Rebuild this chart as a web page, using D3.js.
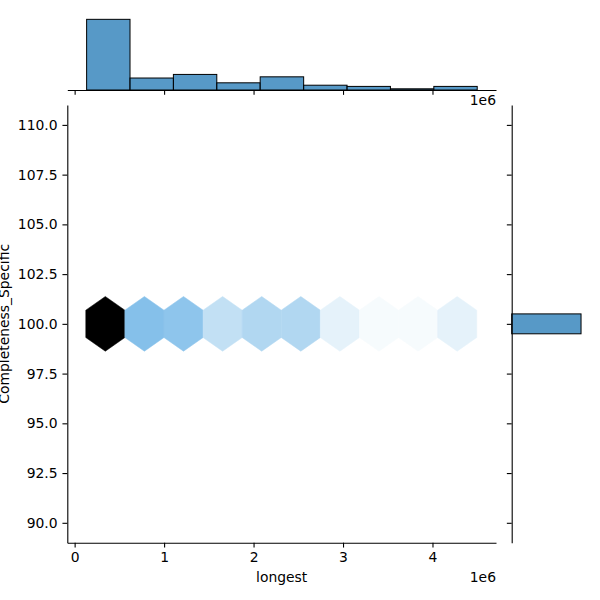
<!DOCTYPE html>
<html>
<head>
<meta charset="utf-8">
<script src="https://cdn.jsdelivr.net/npm/d3@7"></script>
<style>
  body { margin: 0; background: #fff; }
  text { font-family: "DejaVu Sans", sans-serif; font-size: 13.9px; fill: #000; }
</style>
</head>
<body>
<div id="chart"></div>
<script>
// marginal histogram of "longest" (bin edges in units of 1e6)
const xBinEdges = [0.134, 0.619, 1.104, 1.589, 2.074, 2.56, 3.045, 3.53, 4.015, 4.50];
const xCounts = [59, 10, 13, 6, 11, 4, 3, 1, 3];

// marginal histogram of Completeness_Specific
const yBinEdges = [99.5, 100.5];

// hexbin cells (x in 1e6, y value, count)
const hexX = [0.343, 0.78, 1.217, 1.654, 2.091, 2.528, 2.965, 3.402, 3.839, 4.276];
const hexY = [100, 100, 100, 100, 100, 100, 100, 100, 100, 100];
const hexCounts = [50, 14, 13, 7, 9, 9, 3, 1, 1, 3];

const xTicks = [0, 1, 2, 3, 4];
const yTicks = [90, 92.5, 95, 97.5, 100, 102.5, 105, 107.5, 110];

const W = 600, H = 600;
const main = { left: 67.3, right: 496, top: 105, bottom: 542.7 };
const margX = { top: 15.8, bottom: 90 };
const margY = { left: 511.7, right: 584.5 };
const tickLen = 4.86, pad = 4.86;

const svg = d3.select("#chart").append("svg")
  .attr("width", W).attr("height", H);

const x = d3.scaleLinear().domain([-0.082, 4.71]).range([main.left, main.right]);
const y = d3.scaleLinear().domain([89, 111]).range([main.bottom, main.top]);

const histY = d3.scaleLinear().domain([0, d3.max(xCounts) * 1.05]).range([margX.bottom, margX.top]);
const yTotal = d3.sum(xCounts);
const histX = d3.scaleLinear().domain([0, yTotal * 1.05]).range([margY.left, margY.right]);

// seaborn hex colormap: C0 hue, lightness 1 -> 0
const base = d3.hsl("#1f77b4");
const nStops = 12;
const maxCount = d3.max(hexCounts);
const stops = d3.range(nStops).map(i => d3.hsl(base.h, base.s, 1 - i / (nStops - 1)).formatRgb());
const color = d3.scaleLinear()
  .domain(d3.range(nStops).map(i => i / (nStops - 1) * maxCount))
  .range(stops)
  .interpolate(d3.interpolateRgb);

// hexagons
const hexW = 0.437, hexH = 2.75;
const hexPath = (cx, cy) => {
  const pts = [
    [cx + hexW / 2, cy - hexH / 4],
    [cx + hexW / 2, cy + hexH / 4],
    [cx, cy + hexH / 2],
    [cx - hexW / 2, cy + hexH / 4],
    [cx - hexW / 2, cy - hexH / 4],
    [cx, cy - hexH / 2]
  ];
  return "M" + pts.map(p => `${x(p[0])},${y(p[1])}`).join("L") + "Z";
};

svg.append("g").selectAll("path")
  .data(hexCounts)
  .enter().append("path")
  .attr("d", (d, i) => hexPath(hexX[i], hexY[i]))
  .attr("fill", d => color(d))
  .attr("stroke", d => color(d))
  .attr("stroke-width", 0.5);

// top marginal histogram
svg.append("g").selectAll("rect")
  .data(xCounts)
  .enter().append("rect")
  .attr("x", (d, i) => x(xBinEdges[i]))
  .attr("width", (d, i) => x(xBinEdges[i + 1]) - x(xBinEdges[i]))
  .attr("y", d => histY(d))
  .attr("height", d => histY(0) - histY(d))
  .attr("fill", "#1f77b4").attr("fill-opacity", 0.75)
  .attr("stroke", "#000").attr("stroke-width", 1);

// right marginal histogram
svg.append("rect")
  .attr("x", histX(0))
  .attr("y", y(yBinEdges[1]))
  .attr("width", histX(yTotal) - histX(0))
  .attr("height", y(yBinEdges[0]) - y(yBinEdges[1]))
  .attr("fill", "#1f77b4").attr("fill-opacity", 0.75)
  .attr("stroke", "#000").attr("stroke-width", 1);

// axes
const axStyle = g => {
  g.select(".domain").attr("stroke-width", 1.1);
  g.selectAll(".tick line").attr("stroke-width", 1.1);
  g.selectAll(".tick text").style("font-family", "DejaVu Sans").style("font-size", "13.9px");
};

svg.append("g")
  .attr("transform", `translate(0,${main.bottom})`)
  .call(d3.axisBottom(x).tickValues(xTicks).tickFormat(d3.format("d"))
    .tickSizeInner(tickLen).tickSizeOuter(0).tickPadding(pad))
  .call(axStyle);

svg.append("g")
  .attr("transform", `translate(${main.left},0)`)
  .call(d3.axisLeft(y).tickValues(yTicks).tickFormat(d3.format(".1f"))
    .tickSizeInner(tickLen).tickSizeOuter(0).tickPadding(pad))
  .call(axStyle);

// top marginal x axis (ticks only)
svg.append("g")
  .attr("transform", `translate(0,${margX.bottom})`)
  .call(d3.axisBottom(x).tickValues(xTicks).tickFormat("")
    .tickSizeInner(tickLen).tickSizeOuter(0))
  .call(axStyle);

// right marginal y axis (ticks only)
svg.append("g")
  .attr("transform", `translate(${margY.left},0)`)
  .call(d3.axisLeft(y).tickValues(yTicks).tickFormat("")
    .tickSizeInner(tickLen).tickSizeOuter(0))
  .call(axStyle);

// labels
svg.append("text")
  .attr("x", (main.left + main.right) / 2).attr("y", 581.5)
  .attr("text-anchor", "middle").text("longest");

svg.append("text")
  .attr("transform", `translate(9.3,${(main.top + main.bottom) / 2}) rotate(-90)`)
  .attr("text-anchor", "middle").text("Completeness_Specific");

svg.append("text")
  .attr("x", main.right).attr("y", 581.5)
  .attr("text-anchor", "end").text("1e6");

svg.append("text")
  .attr("x", main.right).attr("y", 105)
  .attr("text-anchor", "end").text("1e6");
</script>
</body>
</html>
